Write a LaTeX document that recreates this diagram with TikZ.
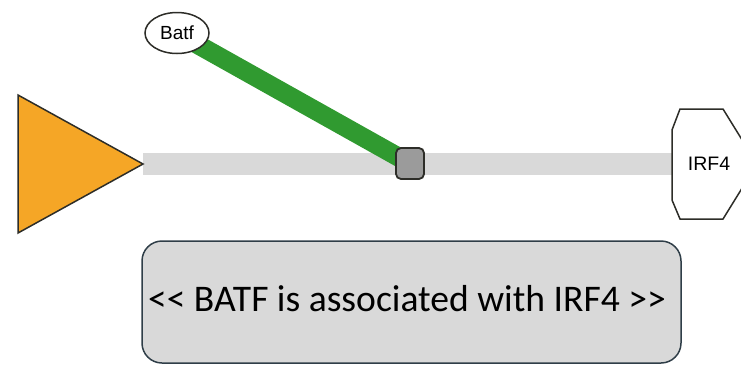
\documentclass[tikz,border=0pt]{standalone}
\usepackage{fontspec}
\newfontfamily\calfont{Carlito}
\newfontfamily\arialfont{Liberation Sans}
\usetikzlibrary{shapes.geometric}
\pgfdeclarelayer{bg}
\pgfsetlayers{bg,main}
\definecolor{orangefill}{RGB}{245,166,38}
\definecolor{linkgreen}{RGB}{48,154,48}
\definecolor{linkgrey}{RGB}{217,217,217}
\definecolor{sqgrey}{RGB}{155,155,155}
\definecolor{boxfill}{RGB}{217,217,217}
\definecolor{boxedge}{RGB}{47,62,72}
\definecolor{edgedark}{RGB}{45,45,40}
\tikzset{
  speciesfont/.style={font=\arialfont\fontsize{19}{21}\selectfont},
  ellnode/.style={ellipse, draw=edgedark, line width=1.5pt, fill=white, minimum width=64pt, minimum height=41pt, inner sep=0pt, speciesfont},
  sqnode/.style={rectangle, rounded corners=5pt, draw=edgedark, line width=1.8pt, fill=sqgrey, minimum width=28pt, minimum height=31pt, inner sep=0pt},
  shapeedge/.style={draw=edgedark, line width=1.5pt},
  greylink/.style={draw=linkgrey, line width=22pt},
  greenlink/.style={draw=linkgreen, line width=19pt},
  notebox/.style={rectangle, rounded corners=20pt, draw=boxedge, line width=1.5pt, fill=boxfill, minimum width=539pt, minimum height=122pt, inner sep=0pt},
  notefont/.style={font=\calfont\fontsize{37.6}{40}\selectfont, inner sep=0pt}
}
\begin{document}
\begin{tikzpicture}[x=1pt,y=-1pt]
\useasboundingbox (0,0) rectangle (741,365);
\clip (0,0) rectangle (741,365);
% triangle
\draw[shapeedge, fill=orangefill] (18,95) -- (143,164) -- (18,233) -- cycle;
\coordinate (tip) at (143,164);
% IRF4 octagon
\draw[shapeedge, fill=white] (680,109) -- (723,109) -- (757,164) -- (723,219) -- (680,219) -- (672,200) -- (672,130) -- cycle;
\node[speciesfont, font=\arialfont\fontsize{19.5}{21}\selectfont] (irf) at (709,164) {IRF4};
\coordinate (irfw) at (672,164);
% nodes
\node[ellnode] (batf) at (177,33) {Batf};
\node[sqnode] (sq) at (410,163.5) {};
\node[notebox] (note) at (411.5,302) {};
\node[notefont] (notetext) at (407,299) {<< BATF is associated with IRF4 >>};
% links
\begin{pgfonlayer}{bg}
\draw[greylink] (tip) -- (irfw);
\draw[greenlink] (batf.center) -- (sq.center);
\end{pgfonlayer}
\end{tikzpicture}
\end{document}
